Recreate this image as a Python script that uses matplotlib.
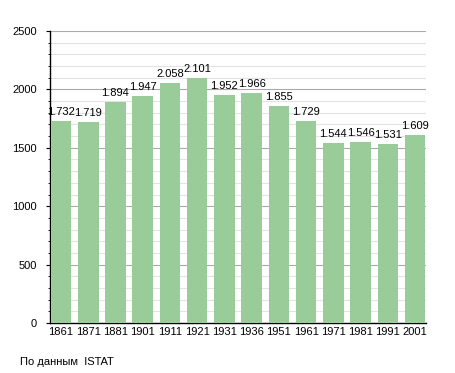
import numpy as np
import matplotlib.pyplot as plt
from matplotlib.ticker import MultipleLocator

plt.rcParams['font.family'] = ['Liberation Sans', 'DejaVu Sans']

## Data

years = ['1861', '1871', '1881', '1901', '1911', '1921', '1931',
         '1936', '1951', '1961', '1971', '1981', '1991', '2001']
population = [1732, 1719, 1894, 1947, 2058, 2101, 1952,
              1966, 1855, 1729, 1544, 1546, 1531, 1609]
source_text = "По данным  ISTAT"

## Figure

fig = plt.figure(figsize=(4.55, 3.73), dpi=100)
ax = fig.add_axes([0.1099, 0.134, 0.8264, 0.7829])

X = np.arange(len(years))
ax.bar(X, population, width=0.76, color='#99cc99', zorder=3)

for x, v in zip(X, population):
    label = f"{v:,}".replace(',', '.')
    ax.text(x, v + 35, label, ha='center', va='bottom', fontsize=8, zorder=4)

ax.set_xlim(-0.4, 13.4)
ax.set_ylim(0, 2500)
ax.set_xticks(X)
ax.set_xticklabels(years, fontsize=8)
ax.tick_params(axis='x', length=0, pad=3)

ax.yaxis.set_major_locator(MultipleLocator(500))
ax.yaxis.set_minor_locator(MultipleLocator(100))
ax.tick_params(axis='y', which='major', length=3, labelsize=8, pad=6.5)
ax.tick_params(axis='y', which='minor', length=1.8)

ax.grid(axis='y', which='major', color='#aaaaaa', linewidth=0.8, zorder=0)
ax.grid(axis='y', which='minor', color='#e3e3e3', linewidth=0.8, zorder=0)

ax.spines['top'].set_visible(False)
ax.spines['right'].set_visible(False)
ax.spines['left'].set_linewidth(1.0)
ax.spines['bottom'].set_linewidth(1.0)

fig.text(20 / 455, 1 - 365 / 373, source_text, fontsize=8, va='baseline')

plt.savefig('out.png', dpi=100)
